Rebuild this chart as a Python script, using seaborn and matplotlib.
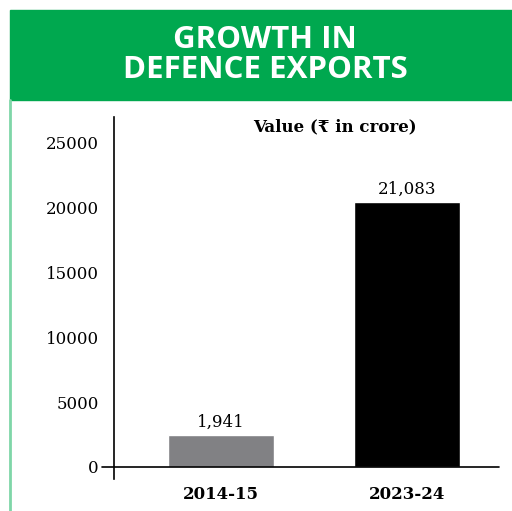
import matplotlib
matplotlib.use("Agg")
import matplotlib.pyplot as plt
import seaborn as sns
import pandas as pd
from matplotlib.patches import Rectangle
from matplotlib.lines import Line2D

# Data
categories = ["2014-15", "2023-24"]
bar_heights = [2500, 20450]          # heights as drawn in the reference
value_labels = ["1,941", "21,083"]   # printed values
bar_colors = ["#818184", "#000000"]
y_ticks = [0, 5000, 10000, 15000, 20000, 25000]

title_lines = "GROWTH IN\nDEFENCE EXPORTS"
subtitle = "Value (₹ in crore)"

sns.set_theme(style="white")
plt.rcParams["font.family"] = ["DejaVu Serif", "DejaVu Sans"]
plt.rcParams["text.color"] = "black"
plt.rcParams["xtick.color"] = "black"
plt.rcParams["ytick.color"] = "black"

fig = plt.figure(figsize=(5.12, 5.11), dpi=100)
W, H = 512, 511

def fx(px):
    return px / W

def fy(py):
    return 1 - py / H

# Header banner
fig.patches.append(Rectangle((fx(10), fy(100)), 1 - fx(10), fy(10) - fy(100),
                             transform=fig.transFigure, color="#00A84F", zorder=0))
# left light-green border
fig.lines.append(Line2D([fx(10), fx(10)], [fy(100), 0], transform=fig.transFigure,
                        color="#7fd6a8", lw=2))
fig.text(fx(265), fy(55), title_lines, ha="center", va="center", color="white",
         fontsize=22.5, fontweight="bold", family=["Open Sans", "DejaVu Sans"],
         linespacing=0.98)

ax = fig.add_axes([fx(114), fy(479), fx(499) - fx(114), fy(117) - fy(479)])
df = pd.DataFrame({"cat": categories, "val": bar_heights})
sns.barplot(data=df, x="cat", y="val", hue="cat", palette=bar_colors,
            width=0.57, saturation=1, legend=False, ax=ax)

ax.set_xlim(-0.575, 1.495)
ax.set_ylim(-930, 27000)
ax.set_yticks(y_ticks)
ax.set_yticklabels([str(t) for t in y_ticks], fontsize=12)
ax.set_xticks(range(len(categories)))
ax.set_xticklabels(categories, fontsize=12, fontweight="bold")
ax.tick_params(axis="y", length=0, pad=11)
ax.tick_params(axis="x", length=0, pad=5)
ax.set_xlabel("")
ax.set_ylabel("")
for s in ["top", "right", "bottom"]:
    ax.spines[s].set_visible(False)
ax.spines["left"].set_color("black")
ax.spines["left"].set_linewidth(1.2)
ax.set_facecolor("white")
# baseline at zero, extending left of the y-axis
ax.plot([-0.03, 1.0], [0, 0], transform=ax.get_yaxis_transform(), color="black",
        lw=1.2, clip_on=False, zorder=5)

for i, (h, lab) in enumerate(zip(bar_heights, value_labels)):
    ax.annotate(lab, (i, h), xytext=(0, 3), textcoords="offset points",
                ha="center", va="bottom", fontsize=12)

fig.text(fx(335), fy(127), subtitle, ha="center", va="center", fontsize=12,
         fontweight="bold")

fig.savefig("out.png", dpi=100, facecolor="white")
